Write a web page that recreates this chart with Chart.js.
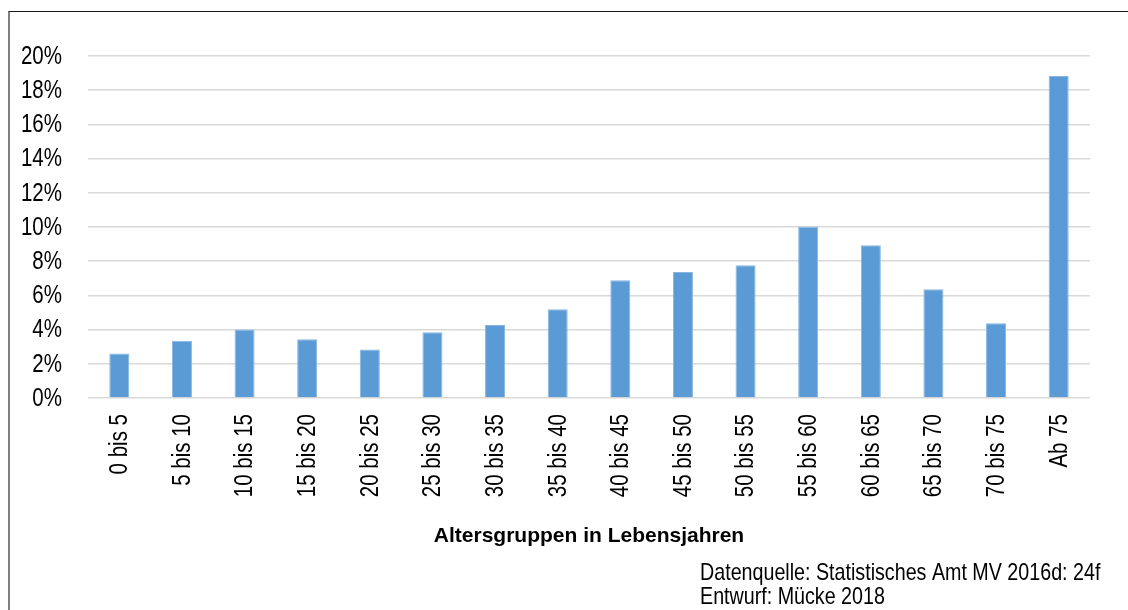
<!DOCTYPE html>
<html>
<head>
<meta charset="utf-8">
<script src="https://cdn.jsdelivr.net/npm/chart.js@4.4.1/dist/chart.umd.min.js"></script>
<style>
  html, body { margin: 0; padding: 0; background: #ffffff; }
  #wrap { position: relative; width: 1128px; height: 610px; overflow: hidden; }
  #frame { position: absolute; left: 8px; top: 11px; width: 1200px; height: 700px;
           border-top: 1px solid #1a1a1a; border-left: 2px solid #7f7f7f; box-sizing: border-box; }
  canvas { position: absolute; left: 0; top: 0; }
</style>
</head>
<body>
<div id="wrap">
  <div id="frame"></div>
  <canvas id="c" width="1128" height="610"></canvas>
</div>
<script>
const categories = ["0 bis 5","5 bis 10","10 bis 15","15 bis 20","20 bis 25","25 bis 30","30 bis 35","35 bis 40","40 bis 45","45 bis 50","50 bis 55","55 bis 60","60 bis 65","65 bis 70","70 bis 75","Ab 75"];
const shares = [2.6, 3.35, 4.0, 3.43, 2.83, 3.84, 4.27, 5.19, 6.88, 7.37, 7.76, 10.02, 8.93, 6.36, 4.37, 18.83];
const yTickValues = [0, 2, 4, 6, 8, 10, 12, 14, 16, 18, 20];
const axisTitle = "Altersgruppen in Lebensjahren";
const sourceLines = ["Datenquelle: Statistisches Amt MV 2016d: 24f", "Entwurf: Mücke 2018"];

const SANS = "'Liberation Sans', Arial, sans-serif";
const NARROW_SCALE = 0.82;   // emulate Arial Narrow

// Draws tick labels (from the chart's own scales) in a narrow face
const narrowText = {
  id: 'narrowText',
  afterDraw(chart) {
    const ctx = chart.ctx;
    const xs = chart.scales.x, ys = chart.scales.y;
    ctx.save();
    ctx.fillStyle = '#000000';
    ctx.font = "25px " + SANS;

    // y ticks
    ctx.textAlign = 'right';
    ctx.textBaseline = 'middle';
    ys.ticks.forEach((t, i) => {
      const py = ys.getPixelForTick(i);
      ctx.save();
      ctx.translate(62, py + 1);
      ctx.scale(NARROW_SCALE, 1);
      ctx.fillText(t.label, 0, 0);
      ctx.restore();
    });

    // x ticks (rotated, reading bottom-to-top)
    xs.ticks.forEach((t, i) => {
      const px = xs.getPixelForTick(i);
      ctx.save();
      ctx.translate(px + 1, 414);
      ctx.rotate(-Math.PI / 2);
      ctx.scale(NARROW_SCALE, 1);
      ctx.textAlign = 'right';
      ctx.textBaseline = 'middle';
      ctx.fillText(categories[i], 0, 0);
      ctx.restore();
    });

    // source lines
    ctx.font = "24px " + SANS;
    ctx.textAlign = 'left';
    ctx.textBaseline = 'middle';
    [573, 597].forEach((y, i) => {
      ctx.save();
      ctx.translate(700, y);
      ctx.scale(NARROW_SCALE, 1);
      ctx.fillText(sourceLines[i], 0, 0);
      ctx.restore();
    });
    ctx.restore();
  }
};

new Chart(document.getElementById('c'), {
  type: 'bar',
  data: {
    labels: categories,
    datasets: [{
      data: shares,
      backgroundColor: '#5b9bd5',
      borderColor: '#86b5e0',
      borderWidth: 1,
      borderSkipped: 'bottom',
      categoryPercentage: 1.0,
      barPercentage: 0.32
    }]
  },
  options: {
    responsive: false,
    animation: false,
    devicePixelRatio: 1,
    layout: { padding: { top: 56, right: 38, left: 0, bottom: 0 } },
    plugins: { legend: { display: false }, tooltip: { enabled: false } },
    scales: {
      x: {
        grid: { display: false, drawTicks: false },
        border: { display: false },
        ticks: { display: false, autoSkip: false },
        title: {
          display: true,
          text: axisTitle,
          color: '#000000',
          font: { family: SANS, size: 21, weight: 'bold' },
          padding: { top: 0, bottom: 61 }
        },
        afterFit(scale) { scale.height = 212; }
      },
      y: {
        min: 0, max: 20,
        afterBuildTicks(scale) { scale.ticks = yTickValues.map(v => ({ value: v })); },
        ticks: {
          display: false,
          callback: (v) => v + '%'
        },
        grid: { color: '#d9d9d9', lineWidth: 1.5, drawTicks: false },
        border: { display: false },
        afterFit(scale) { scale.width = 88; }
      }
    }
  },
  plugins: [narrowText]
});
</script>
</body>
</html>
